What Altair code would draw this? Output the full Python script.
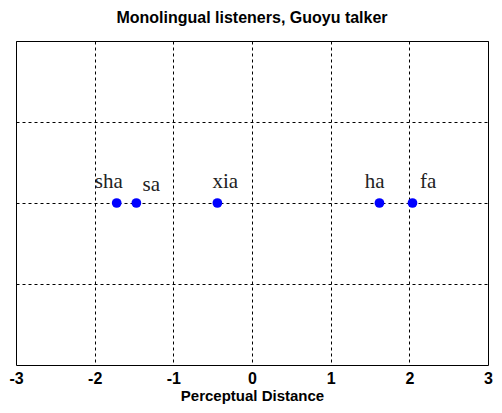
import altair as alt
import pandas as pd

syllables = ["sha", "sa", "xia", "ha", "fa"]
x_pos = [-1.72, -1.47, -0.44, 1.62, 2.04]
y_pos = [0, 0, 0, 0, 0]
label_x = [-1.82, -1.28, -0.34, 1.56, 2.24]
label_y = [0.13, 0.11, 0.13, 0.13, 0.13]

df = pd.DataFrame({"syl": syllables, "x": x_pos, "y": y_pos, "lx": label_x, "ly": label_y})

xs = alt.Scale(domain=[-3, 3], nice=False, zero=False)
ys = alt.Scale(domain=[-1, 1], nice=False, zero=False)

xaxis = alt.Axis(values=[-3, -2, -1, 0, 1, 2, 3], labelExpr="datum.value + ''",
                 title="Perceptual Distance", grid=True, gridColor="black", gridDash=[3, 3],
                 gridOpacity=1, gridWidth=1, ticks=False, domain=False,
                 labelFont="Liberation Sans", labelFontWeight="bold", labelFontSize=16,
                 labelColor="black", labelPadding=5, labelFlush=False,
                 titleFont="Liberation Sans", titleFontWeight="bold", titleFontSize=15,
                 titleColor="black", titlePadding=2)
yaxis = alt.Axis(values=[-0.5, 0, 0.5], labels=False, ticks=False, domain=False, title=None,
                 grid=True, gridColor="black", gridDash=[3, 3], gridOpacity=1, gridWidth=1)

pts = alt.Chart(df).mark_circle(size=95, color="#0000FF", opacity=1).encode(
    x=alt.X("x:Q", scale=xs, axis=xaxis),
    y=alt.Y("y:Q", scale=ys, axis=yaxis),
)
txt = alt.Chart(df).mark_text(font="Liberation Serif", fontSize=21, color="#222222",
                              align="center", baseline="middle").encode(
    x=alt.X("lx:Q", scale=xs),
    y=alt.Y("ly:Q", scale=ys),
    text="syl:N",
)

chart = (pts + txt).properties(
    width=472, height=324,
    title=alt.TitleParams("Monolingual listeners, Guoyu talker", font="Liberation Sans",
                          fontSize=16, fontWeight="bold", color="black", offset=15),
    autosize=alt.AutoSizeParams(type="none"),
    padding={"left": 8, "top": 33, "right": 6, "bottom": 40},
).configure_view(stroke="black", strokeWidth=1)

chart.save("out.html", embed_options={"renderer": "svg", "actions": False})
